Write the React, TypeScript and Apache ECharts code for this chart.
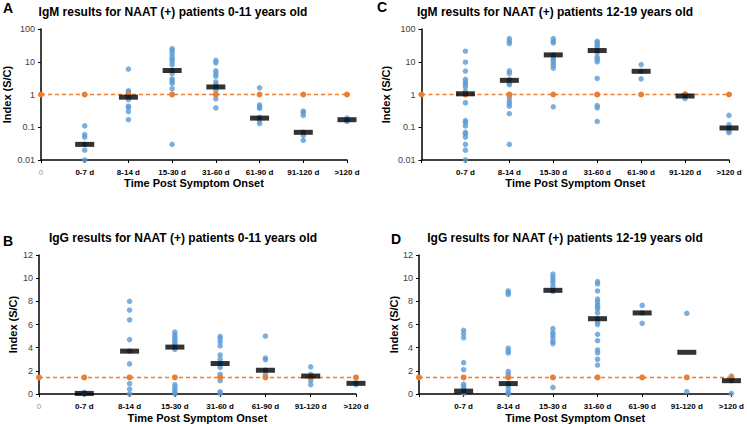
import React, { useEffect, useRef } from "react";
import * as echarts from "echarts";

const categories = ["0-7 d", "8-14 d", "15-30 d", "31-60 d", "61-90 d", "91-120 d", ">120 d"];

// Panel A: IgM, 0-11 years (log scale)
const igmYoungPoints: number[][] = [
  [0.11, 0.06, 0.05, 0.03, 0.02, 0.01],
  [6.0, 1.3, 1.2, 1.0, 0.9, 0.7, 0.44, 0.4, 0.3, 0.17],
  [25, 22, 18, 14, 12, 10, 8, 5.4, 4.4, 3, 2.6, 2.2, 1.5, 1.0, 0.03],
  [11, 9.3, 5.3, 4.4, 3.6, 2.4, 2.0, 1.7, 1.35, 1.0, 0.74, 0.39],
  [1.6, 0.48, 0.42, 0.38, 0.2, 0.16, 0.13],
  [0.31, 0.28, 0.23, 0.07, 0.057, 0.04],
  [0.19, 0.16, 0.15],
];
const igmYoungMedians = [0.03, 0.83, 5.4, 1.7, 0.19, 0.07, 0.17];

// Panel C: IgM, 12-19 years (log scale)
const igmTeenPoints: number[][] = [
  [21, 9.7, 5.2, 2.9, 2.4, 2.1, 1.7, 1.25, 1.1, 1.0, 0.56, 0.16, 0.14, 0.11, 0.07, 0.063, 0.05, 0.03, 0.02, 0.01],
  [51, 42, 36, 5.3, 4.4, 2.9, 2.2, 2.0, 1.0, 0.8, 0.63, 0.53, 0.44, 0.26, 0.03],
  [51, 42, 38, 16, 13, 11, 9.3, 7.7, 6.4, 0.42],
  [42, 38, 32, 28, 22, 19, 14, 12, 10, 3.1, 1.0, 0.46, 0.39, 0.15],
  [8.2, 5.1, 3.0],
  [1.05, 0.9, 0.75],
  [0.23, 0.12, 0.096, 0.076, 0.068],
];
const igmTeenMedians = [1.05, 2.7, 16.2, 22, 5.1, 0.9, 0.095];

// Panel B: IgG, 0-11 years
const iggYoungPoints: number[][] = [
  [0.15, 0.05, 0],
  [8.0, 7.25, 6.4, 4.7, 3.7, 2.6, 0.9, 0.43, 0],
  [5.35, 5.1, 4.9, 4.7, 4.5, 4.3, 4.05, 3.85, 0.8, 0.57, 0.35, 0.15, 0],
  [4.97, 4.77, 4.5, 4.15, 3.37, 3.0, 2.63, 2.3, 1.7, 1.15, 0.2, 0.05],
  [5.0, 3.1, 2.97, 2.05, 1.7],
  [2.35, 1.7, 1.5, 1.15, 0.8],
  [0.95, 0.8],
];
const iggYoungMedians = [0.05, 3.7, 4.05, 2.63, 2.05, 1.55, 0.92];

// Panel D: IgG, 12-19 years
const iggTeenPoints: number[][] = [
  [5.5, 5.2, 4.85, 2.7, 2.1, 0.85, 0.66, 0.43, 0.3, 0.05],
  [8.9, 8.75, 8.6, 3.95, 3.7, 3.55, 1.95, 1.7, 0.9, 0.7, 0.43, 0.15, 0],
  [10.35, 10.1, 9.85, 9.6, 9.3, 8.95, 8.85, 5.65, 5.3, 5.1, 4.85, 4.55, 4.35, 0.57],
  [9.7, 9.5, 8.9, 8.2, 7.95, 7.7, 7.5, 7.35, 7.0, 6.5, 6.2, 6.0, 5.15, 4.6, 3.8, 3.55, 3.0, 2.5],
  [7.65, 7.0, 6.1],
  [6.97, 0.2],
  [1.55, 1.15, 0.05],
];
const iggTeenMedians = [0.25, 0.9, 8.95, 6.5, 7.0, 3.6, 1.15];

const igmCutoff = 1.0;
const iggCutoff = 1.43;
const cutoffXs = [0, 1, 2, 3, 4, 5, 6, 7];

const FONT = "'Liberation Sans', Arial, Helvetica, sans-serif";
const BLUE = "#5B9BD5";
const ORANGE = "#ED7D31";

interface Panel {
  letter: string;
  title: string;
  points: number[][];
  medians: number[];
  cutoff: number;
  log: boolean;
  showZero: boolean;
  grid: { left: number; top: number; width: number; height: number };
  yNameGap: number;
  xNameGap: number;
  titleX: number;
  titleY: number;
  letterX: number;
  letterY: number;
}

const panels: Panel[] = [
  {
    letter: "A", title: "IgM results for NAAT (+) patients 0-11 years old",
    points: igmYoungPoints, medians: igmYoungMedians, cutoff: igmCutoff, log: true, showZero: true,
    grid: { left: 39, top: 29, width: 308, height: 131 }, yNameGap: 29, xNameGap: 17,
    titleX: 173, titleY: 12, letterX: 8, letterY: 8,
  },
  {
    letter: "C", title: "IgM results for NAAT (+) patients 12-19 years old",
    points: igmTeenPoints, medians: igmTeenMedians, cutoff: igmCutoff, log: true, showZero: false,
    grid: { left: 421.5, top: 29, width: 307.5, height: 131 }, yNameGap: 30, xNameGap: 17,
    titleX: 555, titleY: 12, letterX: 382, letterY: 7,
  },
  {
    letter: "B", title: "IgG results for NAAT (+) patients 0-11 years old",
    points: iggYoungPoints, medians: iggYoungMedians, cutoff: iggCutoff, log: false, showZero: true,
    grid: { left: 39, top: 255, width: 317, height: 140 }, yNameGap: 21, xNameGap: 18,
    titleX: 183, titleY: 238, letterX: 8, letterY: 241,
  },
  {
    letter: "D", title: "IgG results for NAAT (+) patients 12-19 years old",
    points: iggTeenPoints, medians: iggTeenMedians, cutoff: iggCutoff, log: false, showZero: false,
    grid: { left: 419, top: 255, width: 319, height: 140 }, yNameGap: 18, xNameGap: 18,
    titleX: 565, titleY: 238, letterX: 396, letterY: 239,
  },
];

function buildOption() {
  const grid: any[] = [];
  const xAxis: any[] = [];
  const yAxis: any[] = [];
  const series: any[] = [];
  const graphic: any[] = [];

  panels.forEach((p, i) => {
    grid.push({ ...p.grid });
    xAxis.push({
      type: "value",
      gridIndex: i,
      min: 0,
      max: 7,
      interval: 1,
      name: "Time Post Symptom Onset",
      nameLocation: "middle",
      nameGap: p.xNameGap,
      nameTextStyle: { fontFamily: FONT, fontWeight: "bold", fontSize: 11, color: "#000" },
      axisLine: { show: true, onZero: false, lineStyle: { color: "#000", width: 1.5 } },
      axisTick: { show: true, length: 3, lineStyle: { color: "#000", width: 1 } },
      splitLine: { show: false },
      axisLabel: {
        fontFamily: FONT,
        fontSize: 8,
        fontWeight: "bold",
        color: "#000",
        margin: 8,
        formatter: (v: number) => {
          if (v === 0) return p.showZero ? "{z|0}" : "";
          return categories[Math.round(v) - 1] ?? "";
        },
        rich: { z: { fontFamily: FONT, fontSize: 8, fontWeight: "normal", color: "#9a9a9a" } },
      },
    });
    const yBase: any = {
      gridIndex: i,
      name: "Index (S/C)",
      nameLocation: "middle",
      nameRotate: 90,
      nameGap: p.yNameGap,
      nameTextStyle: { fontFamily: FONT, fontWeight: "bold", fontSize: 11, color: "#000" },
      axisLine: { show: true, lineStyle: { color: "#000", width: 1.5 } },
      axisTick: { show: true, length: 3, lineStyle: { color: "#000", width: 1 } },
      splitLine: { show: false },
      minorTick: { show: false },
      axisLabel: { fontFamily: FONT, fontSize: 9, color: "#404040", margin: 6 },
    };
    if (p.log) {
      yAxis.push({ ...yBase, type: "log", logBase: 10, min: 0.01, max: 100 });
    } else {
      yAxis.push({ ...yBase, type: "value", min: 0, max: 12, interval: 2 });
    }

    const pts: number[][] = [];
    p.points.forEach((vals, ci) => vals.forEach((v) => pts.push([ci + 1, v])));
    series.push({
      type: "scatter",
      xAxisIndex: i,
      yAxisIndex: i,
      data: pts,
      symbol: "circle",
      symbolSize: 5.5,
      itemStyle: { color: BLUE },
      z: 2,
    });
    series.push({
      type: "line",
      xAxisIndex: i,
      yAxisIndex: i,
      data: cutoffXs.map((x) => [x, p.cutoff]),
      symbol: "circle",
      symbolSize: 6,
      showSymbol: true,
      itemStyle: { color: ORANGE },
      lineStyle: { color: ORANGE, width: 1.5, type: [4, 3] },
      z: 3,
    });
    series.push({
      type: "scatter",
      xAxisIndex: i,
      yAxisIndex: i,
      data: p.medians.map((m, ci) => [ci + 1, m]),
      symbol: "rect",
      symbolSize: [19, 5],
      itemStyle: { color: "#000" },
      z: 4,
    });

    graphic.push({
      type: "text",
      x: p.titleX,
      y: p.titleY,
      style: {
        text: p.title,
        font: `bold 12px ${FONT}`,
        fill: "#000",
        align: "center",
        verticalAlign: "middle",
        textAlign: "center",
        textVerticalAlign: "middle",
      },
    });
    graphic.push({
      type: "text",
      x: p.letterX,
      y: p.letterY,
      style: {
        text: p.letter,
        font: `bold 14px ${FONT}`,
        fill: "#000",
        align: "center",
        verticalAlign: "middle",
        textAlign: "center",
        textVerticalAlign: "middle",
      },
    });
  });

  return {
    animation: false,
    backgroundColor: "#fff",
    textStyle: { fontFamily: FONT },
    grid,
    xAxis,
    yAxis,
    series,
    graphic,
  };
}

export default function App() {
  const ref = useRef<HTMLDivElement>(null);
  useEffect(() => {
    if (!ref.current) return;
    const chart = echarts.init(ref.current, undefined, { renderer: "svg" });
    chart.setOption(buildOption() as any);
    return () => chart.dispose();
  }, []);
  return (
    <div
      ref={ref}
      style={{ position: "absolute", left: 0, top: 0, width: 747, height: 424, background: "#fff" }}
    />
  );
}
